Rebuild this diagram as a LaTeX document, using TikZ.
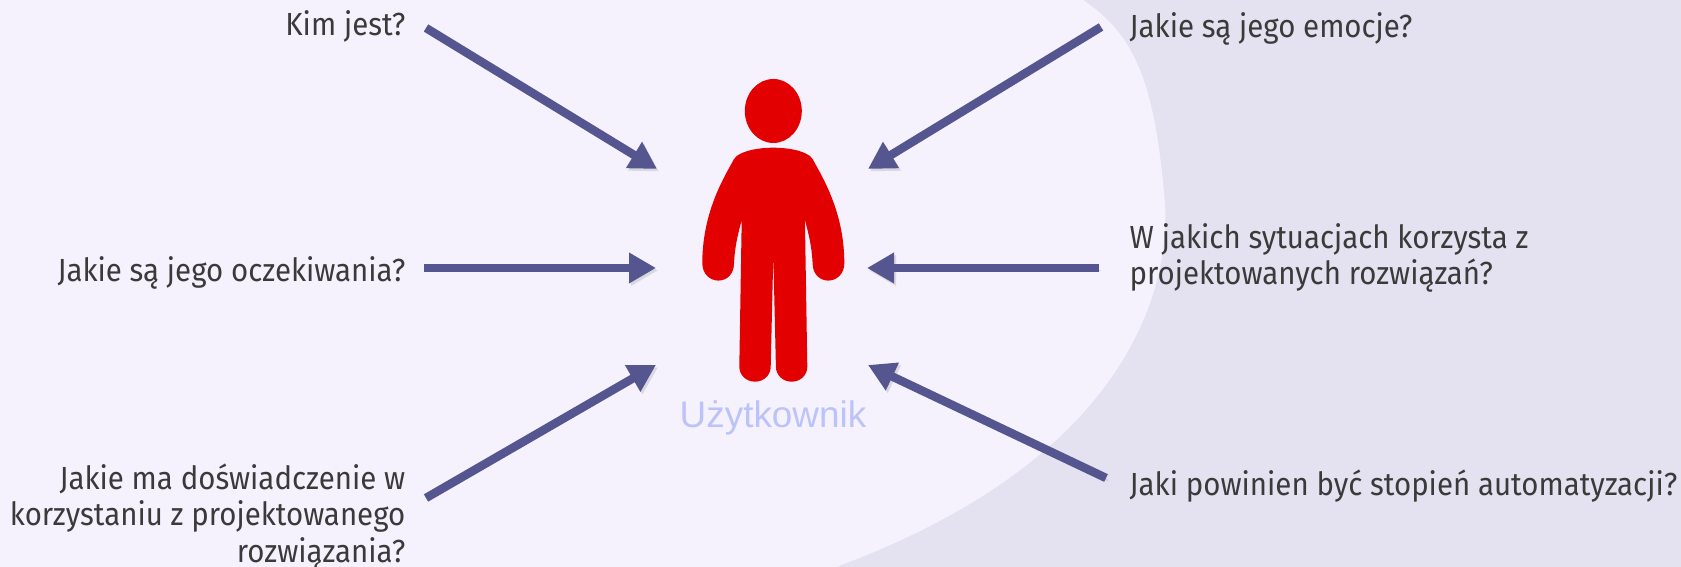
\documentclass[tikz,border=0pt]{standalone}
\usepackage{fontspec}
\setmainfont{Fira Sans}[FakeStretch=0.92]
\newfontfamily\labelfont{Liberation Sans}
\usepackage{xcolor}
\usetikzlibrary{arrows.meta, positioning}
\definecolor{backdrop}{RGB}{228,225,240}
\definecolor{blob}{RGB}{245,242,254}
\definecolor{arrowblue}{RGB}{85,85,143}
\definecolor{figred}{RGB}{227,0,0}
\definecolor{periwinkle}{RGB}{187,195,248}
\definecolor{textgrey}{RGB}{58,58,58}

\begin{document}
\begin{tikzpicture}[
  questl/.style={anchor=east, align=right, font=\fontsize{9.1}{10.4}\selectfont,
                 text=textgrey, inner sep=0pt},
  questr/.style={anchor=west, align=left, font=\fontsize{9.1}{10.4}\selectfont,
                 text=textgrey, inner sep=0pt},
  arr/.style={line width=0.085cm, draw=arrowblue,
              -{Triangle[length=0.27cm, width=0.29cm, fill=arrowblue]},
              preaction={draw=black!35, opacity=0.35, transform canvas={shift={(0.02,-0.025)}}}}
]
\useasboundingbox (0,0) rectangle (16.81,5.67);

%% Background
\fill[backdrop] (0,0) rectangle (16.81,5.67);
\fill[blob] (0,0) -- (0,5.67) -- (10.83,5.67)
  .. controls (11.35,5.32) and (11.55,4.85) .. (11.65,3.63)
  .. controls (11.70,2.70) and (11.20,1.05) .. (8.36,0) -- cycle;

%% Person
\fill[figred] (7.733,4.56) ellipse (0.285 and 0.32);
\fill[figred] (7.733,4.193)
  .. controls (7.60,4.193) and (7.45,4.17) .. (7.367,4.11)
  .. controls (7.34,4.09) and (7.33,4.06) .. (7.317,4.037)
  .. controls (7.20,3.83) and (7.023,3.50) .. (7.023,3.037)
  .. controls (7.023,2.93) and (7.10,2.864) .. (7.183,2.864)
  .. controls (7.27,2.864) and (7.34,2.93) .. (7.34,3.037)
  .. controls (7.35,3.22) and (7.38,3.33) .. (7.417,3.47)
  -- (7.393,2.003)
  .. controls (7.393,1.92) and (7.46,1.853) .. (7.55,1.853)
  .. controls (7.64,1.853) and (7.707,1.92) .. (7.707,2.003)
  -- (7.733,3.12)
  -- (7.759,2.003)
  .. controls (7.759,1.92) and (7.826,1.853) .. (7.916,1.853)
  .. controls (8.006,1.853) and (8.073,1.92) .. (8.073,2.003)
  -- (8.049,3.47)
  .. controls (8.086,3.33) and (8.116,3.22) .. (8.126,3.037)
  .. controls (8.126,2.93) and (8.196,2.864) .. (8.283,2.864)
  .. controls (8.366,2.864) and (8.443,2.93) .. (8.443,3.037)
  .. controls (8.443,3.50) and (8.266,3.83) .. (8.149,4.037)
  .. controls (8.136,4.06) and (8.126,4.09) .. (8.099,4.11)
  .. controls (8.016,4.17) and (7.866,4.193) .. (7.733,4.193) -- cycle;
\node[font=\labelfont\fontsize{10.5}{12}\selectfont, text=periwinkle, inner sep=0pt] (user) at (7.73,1.49) {Użytkownik};

%% Left questions
\node[questl] (q_who)    at (4.06,5.41) {Kim jest?};
\node[questl] (q_expect) at (4.06,2.94) {Jakie są jego oczekiwania?};
\node[questl] (q_exper)  at (4.06,0.50) {Jakie ma doświadczenie w\\korzystaniu z projektowanego\\rozwiązania?};

%% Right questions
\node[questr] (q_emot)   at (11.29,5.38) {Jakie są jego emocje?};
\node[questr] (q_situ)   at (11.29,3.09) {W jakich sytuacjach korzysta z\\projektowanych rozwiązań?};
\node[questr] (q_auto)   at (11.29,0.81) {Jaki powinien być stopień automatyzacji?};

%% Arrow ends
\coordinate (s_who)    at (4.26,5.39);
\coordinate (e_who)    at (6.57,3.98);
\coordinate (s_expect) at (4.24,2.99);
\coordinate (e_expect) at (6.56,2.99);
\coordinate (s_exper)  at (4.26,0.69);
\coordinate (e_exper)  at (6.56,2.02);
\coordinate (s_emot)   at (11.01,5.40);
\coordinate (e_emot)   at (8.68,3.98);
\coordinate (s_situ)   at (10.99,2.99);
\coordinate (e_situ)   at (8.67,2.99);
\coordinate (s_auto)   at (11.06,0.89);
\coordinate (e_auto)   at (8.68,2.02);

%% Arrows
\draw[arr] (s_who)    -- (e_who);
\draw[arr] (s_expect) -- (e_expect);
\draw[arr] (s_exper)  -- (e_exper);
\draw[arr] (s_emot)   -- (e_emot);
\draw[arr] (s_situ)   -- (e_situ);
\draw[arr] (s_auto)   -- (e_auto);

\end{tikzpicture}
\end{document}
